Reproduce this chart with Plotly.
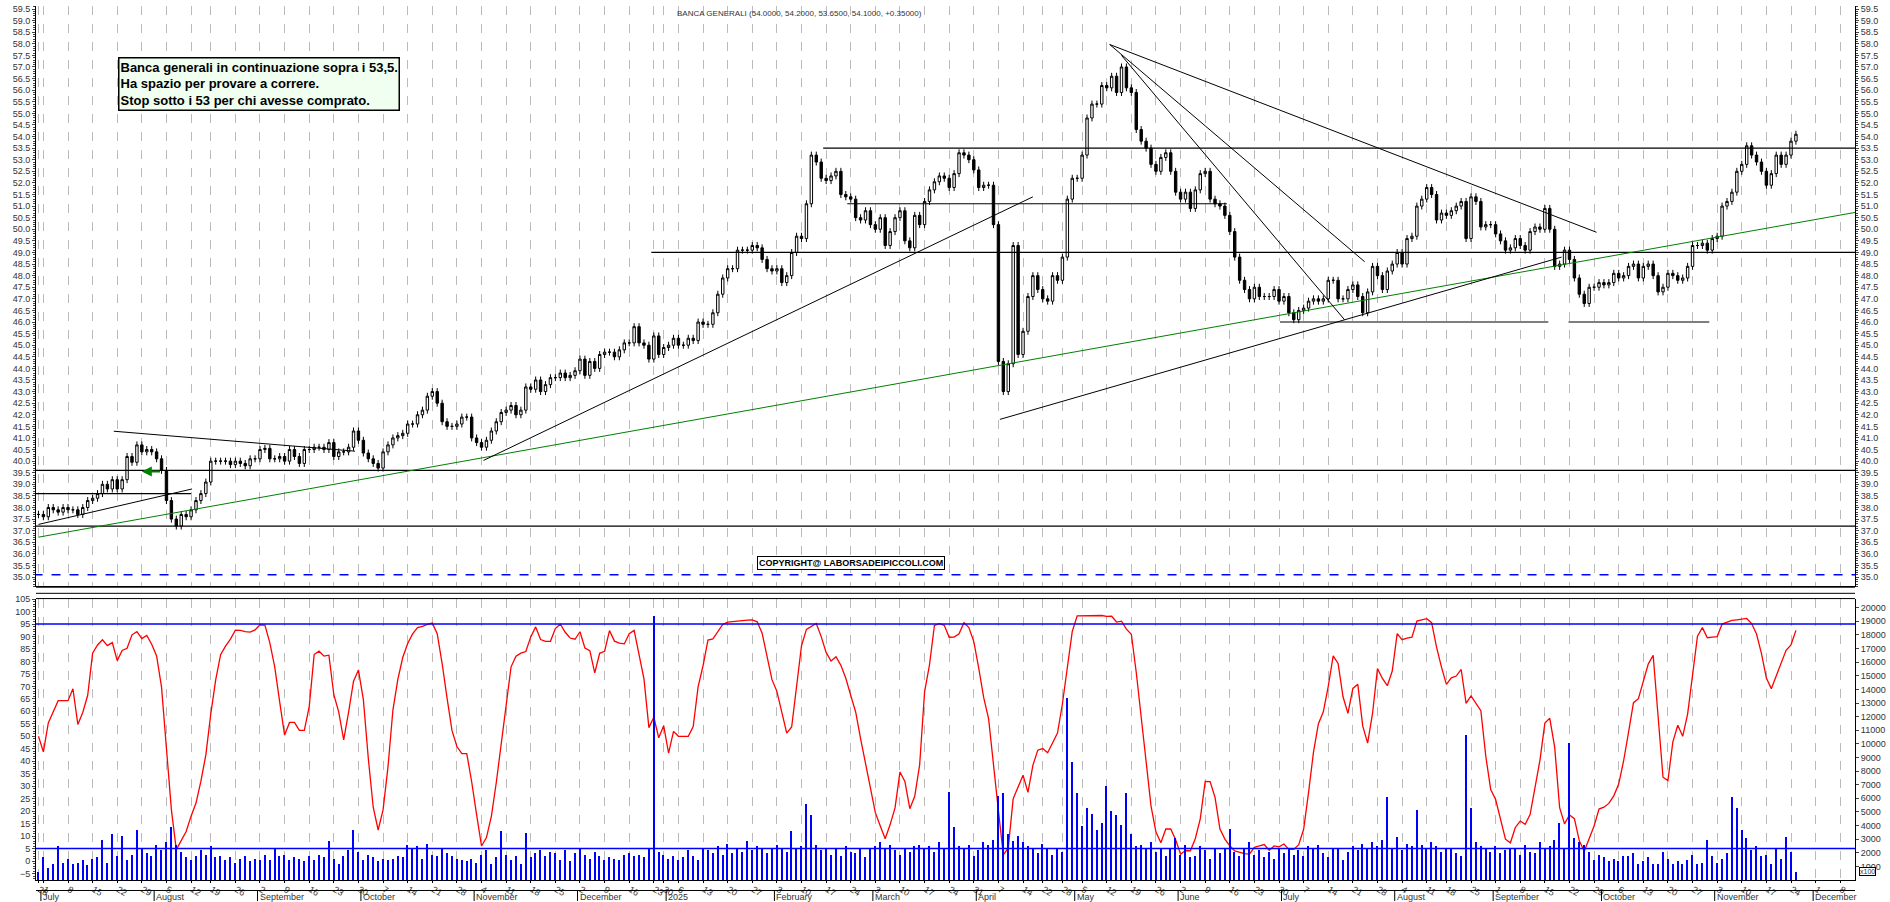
import pandas as pd
import plotly.graph_objects as go

# daily closes, 27 Jun 2024 -> 25 Nov 2025
closes = [
    37.7, 37.6, 38.0, 37.9, 37.8, 38.0, 37.9, 37.9, 37.7, 38.0,
    38.3, 38.4, 38.6, 39.0, 38.8, 39.2, 38.8, 39.2, 40.2, 39.95,
    40.7, 40.4, 40.5, 40.4, 40.1, 39.6, 38.3, 37.5, 37.2, 37.7,
    37.6, 37.9, 38.3, 38.6, 39.1, 40.0, 40.0, 40.0, 40.0, 39.85,
    40.0, 39.9, 39.8, 40.1, 40.1, 40.5, 40.55, 40.1, 40.1, 40.2,
    40.0, 40.5, 40.2, 39.9, 40.5, 40.5, 40.6, 40.6, 40.5, 40.8,
    40.2, 40.4, 40.4, 40.6, 41.3, 40.9, 40.35, 40.1, 39.9, 39.7,
    40.4, 40.7, 41.0, 41.1, 41.2, 41.6, 41.6, 42.0, 42.2, 42.8,
    43.0, 42.5, 41.7, 41.5, 41.5, 41.6, 41.9, 41.9, 41.0, 40.8,
    40.6, 40.9, 41.3, 41.7,
    42.1, 42.2, 42.4, 42.0, 42.2, 43.2, 43.1, 43.5, 43.0, 43.3,
    43.6, 43.6, 43.8, 43.6, 43.7, 43.9, 44.4, 43.7, 44.3, 44.0,
    44.6, 44.7, 44.7, 44.5, 44.8, 45.1, 45.1, 45.8, 45.1, 45.0,
    44.4, 45.4, 44.6, 44.9, 45.0, 45.3, 45.0, 45.0, 45.3, 45.2,
    46.0, 45.9, 45.9, 46.4, 47.2, 47.9, 48.3, 48.3, 49.1, 49.1,
    49.1, 49.3, 49.2, 48.7, 48.3, 48.2, 48.3, 47.7, 48.0, 49.0,
    49.7, 49.6, 51.1, 53.2, 52.9, 52.2, 52.1, 52.3, 52.5, 51.5,
    51.4, 51.3, 50.5, 50.4, 50.8, 50.2, 50.0, 50.5, 49.3, 49.9,
    50.5, 50.8, 49.5, 49.2, 50.6, 50.2, 51.2, 51.7,
    52.05, 52.3, 52.2, 51.8, 52.4, 53.3, 53.2, 53.0, 52.56, 51.8,
    51.9, 51.9, 50.2, 44.3, 43.0, 44.2, 49.3, 44.6, 45.6, 47.1,
    48.0, 47.4, 47.0, 46.9, 48.0, 47.8, 48.8, 51.3, 52.2, 52.2,
    53.2, 54.8, 55.4, 55.4, 56.2, 56.1, 56.6, 55.9, 57.0, 56.1,
    55.9, 54.3, 53.8, 53.5, 52.8, 52.5, 53.1, 53.3, 52.5, 51.6,
    51.3, 51.6, 50.9, 51.7, 52.4, 52.5, 51.3, 51.1, 51.0, 50.6,
    49.9, 48.8, 47.8, 47.4, 47.0, 47.5, 47.1, 47.1, 47.1, 47.4,
    46.9, 47.1, 46.4, 46.1, 46.5, 46.6, 46.9, 47.0, 46.9, 47.0,
    47.8, 47.8, 47.0, 47.0, 47.4, 47.6, 47.1, 46.4, 47.3, 48.4,
    48.0, 47.4,
    48.2, 48.5, 49.0, 48.5, 49.6, 49.7, 51.0, 51.3, 51.8, 51.5,
    50.4, 50.7, 50.6, 50.8, 51.0, 51.2, 49.6, 51.4, 51.2, 50.1,
    50.2, 50.2, 49.8, 49.5, 49.1, 49.2, 49.6, 49.3, 49.1, 49.9,
    50.1, 50.0, 50.9, 50.0, 48.4, 48.5, 49.1, 48.7, 47.9, 47.2,
    46.8, 47.5, 47.5, 47.7, 47.6, 47.7, 48.1, 47.9, 48.0, 48.4,
    48.5, 47.9, 48.4, 48.5, 48.0, 47.3, 47.5, 48.1, 48.0, 47.8,
    47.9, 48.4, 49.3, 49.3, 49.4, 49.1, 49.6, 49.7, 51.0, 51.2,
    51.6, 52.5, 52.8, 53.6, 53.2, 52.9, 52.5, 51.9, 52.4, 53.2,
    52.8, 53.2, 53.8, 54.1,
]

volumes = [
    600, 1700, 900, 1200, 2500, 1300, 1600, 1200, 1300, 1500,
    1100, 1600, 1700, 3000, 1300, 3400, 1800, 3300, 1500, 1900,
    3700, 2300, 2000, 1800, 2600, 2200, 2800, 3900, 2600, 2100,
    1700, 1500, 1800, 2200, 1900, 2500, 1700, 1800, 1500, 1700,
    1300, 1600, 1800, 1400, 1600, 1500, 1900, 1500, 2400, 1800,
    1900, 1500, 1700, 1600, 1400, 1800, 1500, 1900, 1700, 2900,
    1600, 1200, 1800, 2200, 3700, 2100, 1500, 1900, 1700, 1400,
    1600, 1500, 1600, 1800, 1700, 2600, 2400, 2500, 1600, 2700,
    1900, 1800, 2400, 2000, 1800, 1600, 1500, 1400, 1600, 1300,
    1900, 2200, 1200, 1700, 3600, 1900, 1500, 1800, 1200, 3500,
    1700, 2000, 2200, 1800, 2100, 2000, 1500, 2200, 1400, 2000,
    2300, 1900, 1600, 2100, 1800, 1500, 1700, 1600, 1500, 1900,
    2000, 1800, 1900, 1700, 2300, 19400, 2100, 1900, 1600, 1800,
    1500, 1700, 2200, 1800, 1500, 2400, 2200, 2000, 2500, 1900,
    2700, 2000, 2300, 2100, 2900, 2200, 2500, 2400, 2000, 2300,
    2600, 2400, 2100, 3600, 2400, 2500, 5600, 4800, 2600, 2200,
    2400, 1900, 2300, 1800, 2500, 2100, 2000, 2300, 1700, 2400,
    2500, 2800, 2300, 2600, 2200, 1900, 2400, 2100, 2500, 2600,
    2300, 2500, 2100, 2800, 2400, 6500, 3900, 2500, 2300, 2600,
    1800, 2200, 2800, 2600, 3000, 6200, 6400, 3400, 2900, 3300,
    2800, 2500, 2300, 2000, 2700, 2400, 1900, 2300, 2100, 13400,
    8700, 6400, 4000, 5300, 4900, 3700, 4200, 6900, 5100, 4800,
    4100, 6400, 3400, 2500, 2600, 2300, 2800, 2100, 2400, 1800,
    2300, 3100, 1900, 2600, 1700, 1800, 2500, 2200, 1600, 2300,
    2000, 2400, 3800, 2100, 1800, 2300, 2800, 1900, 2200, 1700,
    2100, 1600, 2300, 2000, 2400, 1900, 2200, 1800, 2500, 2300,
    2600, 2000, 1700, 2300, 2400, 1500, 2100, 2500, 2200, 2700,
    2300, 2800, 2500, 3000, 6100, 2400, 3200, 2200, 2700, 2500,
    5200, 2600, 2300, 2800, 2500, 2100, 2400, 2300, 2000, 1800,
    10700, 5300, 2800, 2500, 2300, 2100, 2500, 2000, 2200, 2400,
    2300, 1900, 2600, 2100, 2000, 2800, 2300, 2500, 3000, 4200,
    2400, 10100, 3100, 2800, 2600, 2100, 1500, 1900, 1700, 1400,
    1600, 1400, 1800, 1800, 2000, 1200, 1400, 1700, 1200, 1200,
    2100, 1600, 1200, 1400, 1200, 1500, 1900, 1200, 1300, 3000,
    1800, 1300, 1600, 2000, 6100, 5300, 3700, 3100, 2200, 2500,
    1800, 1900, 1200, 2400, 1600, 3200, 2100, 600,
]

holidays = ["2024-08-15", "2024-12-24", "2024-12-25", "2024-12-26", "2024-12-31",
            "2025-01-01", "2025-04-18", "2025-04-21", "2025-05-01", "2025-08-15",
            "2025-12-24", "2025-12-25", "2025-12-26"]
last_day = "2025-11-25"

# horizontal levels: (price, from index, to index, colour, dash)
levels = [
    (53.5, 159.4, 372, "black", "solid"),
    (51.1, 164.3, 241.4, "black", "solid"),
    (49.0, 124.5, 372, "black", "solid"),
    (46.0, 252.2, 306.7, "black", "solid"),
    (46.0, 310.8, 339.4, "black", "solid"),
    (39.6, -1, 372, "black", "solid"),
    (37.2, -1, 372, "black", "solid"),
    (38.6, -1, 31, "black", "solid"),
    (35.1, -1, 372, "blue", "dash"),
]
# trend lines: (idx1, price1, idx2, price2, colour)
trends = [
    (15.3, 41.29, 64.3, 40.43, "black"),
    (0, 37.27, 31.2, 38.8, "black"),
    (0, 36.72, 372, 50.84, "green"),
    (90.4, 40.03, 202, 51.4, "black"),
    (195.3, 41.8, 309.4, 48.8, "black"),
    (217.6, 57.97, 316.5, 49.87, "black"),
    (217.6, 57.97, 269.4, 48.6, "black"),
    (220, 57.5, 265.3, 46.1, "black"),
]

n = len(closes)
cal = pd.bdate_range("2024-06-01", "2025-12-31")
cal = cal[~cal.isin(pd.to_datetime(holidays))]
dates = cal[cal <= last_day][-n:]
cal_f = cal[cal >= dates[0]]
pos = {d: i for i, d in enumerate(cal_f)}

x = list(range(n))
opens = [closes[0]] + closes[:-1]
highs = [max(o, c) + 0.15 for o, c in zip(opens, closes)]
lows = [min(o, c) - 0.15 for o, c in zip(opens, closes)]

s = pd.DataFrame({"h": highs, "l": lows, "c": closes})
hh = s["h"].rolling(14, min_periods=1).max()
ll = s["l"].rolling(14, min_periods=1).min()
stoch = ((s["c"] - ll) / (hh - ll) * 100).rolling(3, min_periods=1).mean()

# weekly ticks and month starts
cs = pd.Series(cal_f)
wk = cs.groupby(cs.dt.to_period("W")).first()
tickvals = [pos[d] for d in wk]
ticktext = [str(d.day) for d in wk]
ms = cs.groupby(cs.dt.to_period("M")).first()
month_names = {1: "2025", 2: "February", 3: "March", 4: "April", 5: "May", 6: "June", 7: "July",
               8: "August", 9: "September", 10: "October", 11: "November", 12: "December"}

fig = go.Figure()
fig.add_trace(go.Candlestick(
    x=x, open=opens, high=highs, low=lows, close=closes, xaxis="x2", yaxis="y",
    increasing=dict(line=dict(color="black", width=1), fillcolor="white"),
    decreasing=dict(line=dict(color="black", width=1), fillcolor="black"),
    whiskerwidth=0, showlegend=False, hoverinfo="skip"))
fig.add_trace(go.Bar(x=x, y=volumes, xaxis="x", yaxis="y4", marker_color="blue",
                     marker_line_width=0, width=0.3, showlegend=False))
fig.add_trace(go.Scatter(x=x, y=stoch, xaxis="x", yaxis="y3", mode="lines",
                         line=dict(color="red", width=1.3), showlegend=False))

shapes = []
for p, a, b, col, dash in levels:
    shapes.append(dict(type="line", xref="x2", yref="y", x0=a, x1=b, y0=p, y1=p,
                       line=dict(color=col, width=1.5 if col == "blue" else 1.2, dash=dash)))
for a, p1, b, p2, col in trends:
    shapes.append(dict(type="line", xref="x2", yref="y", x0=a, x1=b, y0=p1, y1=p2,
                       line=dict(color=col, width=1)))
for v in (95, 5):
    shapes.append(dict(type="line", xref="x", yref="y3", x0=-1, x1=372, y0=v, y1=v,
                       line=dict(color="blue", width=1.5)))
# panel separators and date rows
for yy in (0.335, 0.328, 0.322):
    shapes.append(dict(type="line", xref="paper", yref="paper", x0=0, x1=1, y0=yy, y1=yy,
                       line=dict(color="black", width=1)))
shapes.append(dict(type="line", xref="paper", yref="paper", x0=0, x1=1, y0=-0.012, y1=-0.012,
                   line=dict(color="black", width=1)))
annotations = []
for d in ms:
    i = pos[d]
    if i < 1:
        continue
    shapes.append(dict(type="line", xref="x", yref="paper", x0=i - 0.5, x1=i - 0.5, y0=-0.012, y1=-0.024,
                       line=dict(color="black", width=1)))
    annotations.append(dict(x=i - 0.5, y=-0.0125, xref="x", yref="paper", text=month_names[d.month],
                            showarrow=False, xanchor="left", yanchor="top", yshift=1,
                            font=dict(size=9, color="#333", family="Arial")))

annotations += [
    dict(x=0.045, y=0.942, xref="paper", yref="paper", xanchor="left", yanchor="top", align="left",
         text="<b>Banca generali in continuazione sopra i 53,5.<br>Ha spazio per provare a correre.<br>"
              "Stop sotto i 53 per chi avesse comprato.</b>",
         showarrow=False, bgcolor="#f0fff0", bordercolor="black", borderwidth=1.5, borderpad=1,
         font=dict(size=13, family="Liberation Sans Narrow, Arial", color="black")),
    dict(x=0.42, y=0.999, xref="paper", yref="paper", xanchor="center", yanchor="top",
         text="BANCA GENERALI (54.0000, 54.2000, 53.6500, 54.1000, +0.35000)", showarrow=False,
         font=dict(size=8, family="Arial", color="#333")),
    dict(x=165, y=35.6, xref="x2", yref="y", text="<b>COPYRIGHT@ LABORSADEIPICCOLI.COM</b>",
         showarrow=False, bgcolor="white", bordercolor="black", borderwidth=1, borderpad=1,
         font=dict(size=9, family="Arial", color="black")),
    dict(x=21, y=39.55, ax=25, ay=39.55, xref="x2", yref="y", axref="x2", ayref="y", text="",
         showarrow=True, arrowhead=2, arrowcolor="green", arrowwidth=2),
    dict(x=1.002, y=0.005, xref="paper", yref="paper", xanchor="left", yanchor="bottom",
         text="x100", showarrow=False, bgcolor="white", bordercolor="black", borderwidth=1,
         borderpad=0, font=dict(size=7, family="Arial", color="#333")),
]

tickfont = dict(size=9, family="Arial", color="#333")
xcommon = dict(range=[-0.5, n + 11], tickvals=tickvals, ticktext=ticktext, showgrid=True,
               gridcolor="#bbbbbb", griddash="dash", gridwidth=1, zeroline=False,
               showline=True, linecolor="black", rangeslider=dict(visible=False))
xaxis = dict(xcommon, anchor="y3", tickfont=tickfont, ticklabelposition="outside right",
             ticks="outside", ticklen=2, tickcolor="black")
xaxis2 = dict(xcommon, anchor="y", matches="x", showticklabels=False, ticks="")
yc = dict(showgrid=False, zeroline=False, showline=True, linecolor="black", ticks="outside",
          ticklen=3, tickfont=tickfont)
prange = [34.6, 59.63]
fig.update_layout(
    width=1890, height=902, paper_bgcolor="white", plot_bgcolor="white",
    margin=dict(l=36, r=35, t=2, b=22),
    xaxis=xaxis, xaxis2=xaxis2,
    yaxis=dict(yc, domain=[0.336, 1], range=prange, dtick=0.5, tickformat=".1f", side="left",
               minor=dict(dtick=0.1, ticks="outside", ticklen=2), anchor="x2"),
    yaxis2=dict(yc, domain=[0.336, 1], range=prange, dtick=0.5, tickformat=".1f", side="right",
                overlaying="y", minor=dict(dtick=0.1, ticks="outside", ticklen=2), anchor="x2"),
    yaxis3=dict(yc, domain=[0, 0.322], range=[-7.6, 105.2], dtick=5, side="left",
                minor=dict(dtick=1, ticks="outside", ticklen=2), anchor="x"),
    yaxis4=dict(yc, overlaying="y3", side="right", range=[0, 20670], tickformat="d",
                tickvals=list(range(1000, 20001, 1000)), anchor="x"),
    shapes=shapes, annotations=annotations, bargap=0,
)
fig.add_trace(go.Scatter(x=[0], y=[prange[0] - 5], yaxis="y2", xaxis="x2", mode="markers",
                         showlegend=False, hoverinfo="skip"))

fig.write_html("out.html", config={"displayModeBar": False},
               post_script="document.body.style.margin='0';document.body.style.overflow='hidden';")
